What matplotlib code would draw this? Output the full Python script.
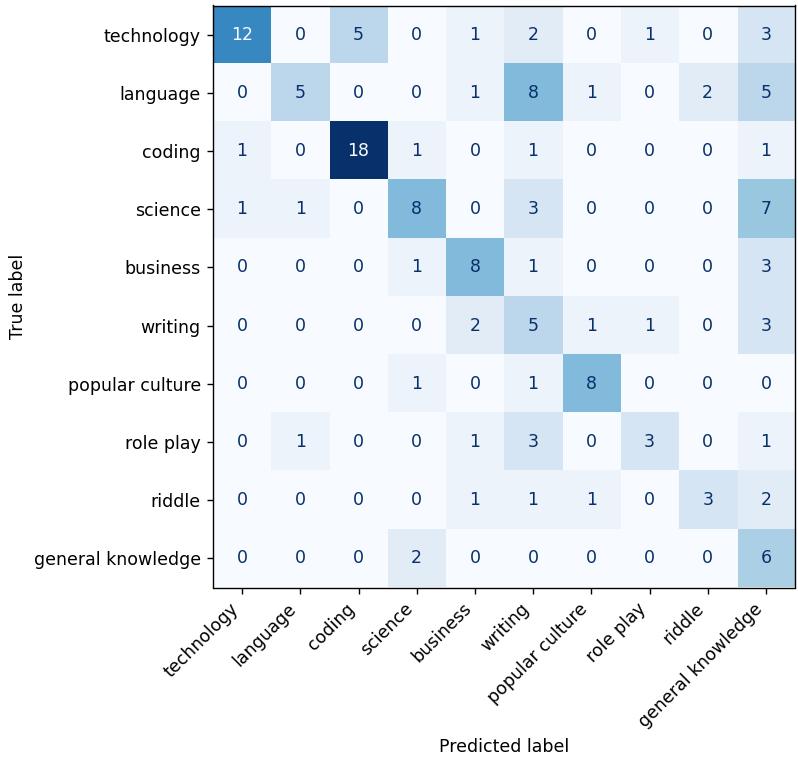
import numpy as np
import matplotlib
matplotlib.use("Agg")
import matplotlib.pyplot as plt

labels = ["technology", "language", "coding", "science", "business",
          "writing", "popular culture", "role play", "riddle", "general knowledge"]

cm = np.array([
    [12, 0, 5, 0, 1, 2, 0, 1, 0, 3],
    [0, 5, 0, 0, 1, 8, 1, 0, 2, 5],
    [1, 0, 18, 1, 0, 1, 0, 0, 0, 1],
    [1, 1, 0, 8, 0, 3, 0, 0, 0, 7],
    [0, 0, 0, 1, 8, 1, 0, 0, 0, 3],
    [0, 0, 0, 0, 2, 5, 1, 1, 0, 3],
    [0, 0, 0, 1, 0, 1, 8, 0, 0, 0],
    [0, 1, 0, 0, 1, 3, 0, 3, 0, 1],
    [0, 0, 0, 0, 1, 1, 1, 0, 3, 2],
    [0, 0, 0, 2, 0, 0, 0, 0, 0, 6],
])

fig = plt.figure(figsize=(798 / 125, 757 / 125), dpi=125)
ax = fig.add_axes([213 / 798, 1 - 588 / 757, 582 / 798, 583 / 757])

cmap = plt.cm.Blues
ax.imshow(cm, cmap=cmap, interpolation="nearest")

# white text on dark cells, like sklearn's ConfusionMatrixDisplay
thresh = (cm.max() + cm.min()) / 2.0
for i in range(cm.shape[0]):
    for j in range(cm.shape[1]):
        color = cmap(256) if cm[i, j] < thresh else cmap(0)
        ax.text(j, i, str(cm[i, j]), ha="center", va="center", color=color)

ax.set_xticks(np.arange(len(labels)))
ax.set_yticks(np.arange(len(labels)))
ax.set_xticklabels(labels, rotation=45, ha="right")
ax.set_yticklabels(labels)
ax.set_xlabel("Predicted label")
ax.set_ylabel("True label")

fig.savefig("out.png", dpi=125)
